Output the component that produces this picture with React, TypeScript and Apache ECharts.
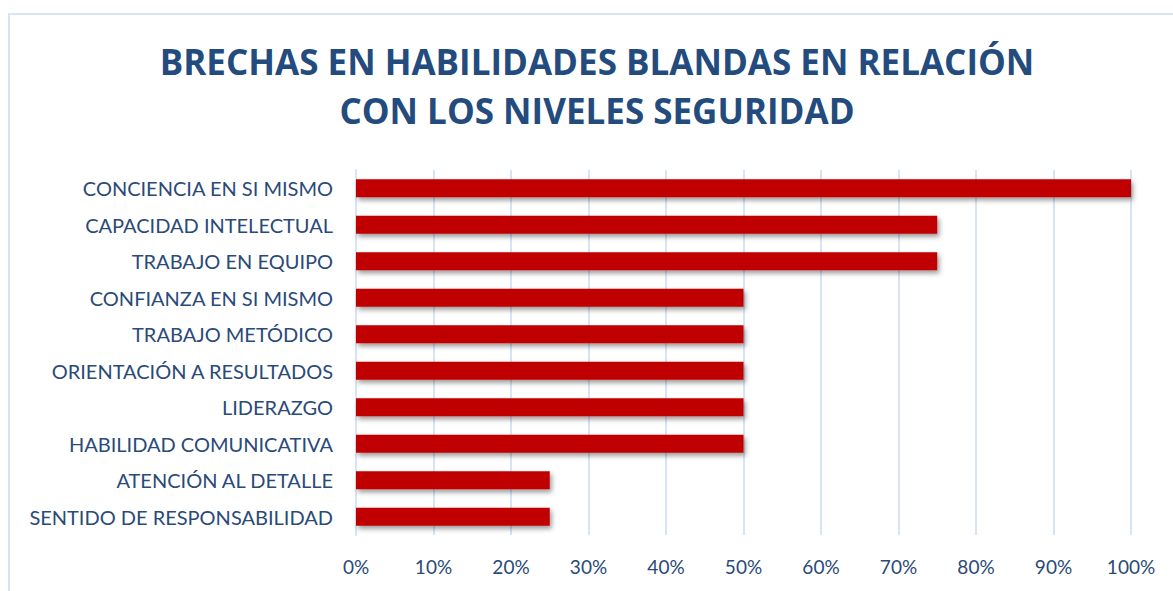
import React, { useEffect, useRef } from "react";
import * as echarts from "echarts";

const categories = [
  "CONCIENCIA EN SI MISMO",
  "CAPACIDAD INTELECTUAL",
  "TRABAJO EN EQUIPO",
  "CONFIANZA EN SI MISMO",
  "TRABAJO METÓDICO",
  "ORIENTACIÓN A RESULTADOS",
  "LIDERAZGO",
  "HABILIDAD COMUNICATIVA",
  "ATENCIÓN AL DETALLE",
  "SENTIDO DE RESPONSABILIDAD",
];
const values = [100, 75, 75, 50, 50, 50, 50, 50, 25, 25];
const titleLines = ["BRECHAS EN HABILIDADES BLANDAS EN RELACIÓN", "CON LOS NIVELES SEGURIDAD"];

export default function App() {
  const ref = useRef<HTMLDivElement>(null);
  useEffect(() => {
    if (!ref.current) return;
    const chart = echarts.init(ref.current, undefined, { renderer: "svg" });
    chart.setOption({
      animation: false,
      backgroundColor: "#ffffff",
      graphic: [
        {
          type: "rect",
          shape: { x: 9, y: 14, width: 1200, height: 600 },
          style: { fill: "none", stroke: "#D6E4F5", lineWidth: 2 },
          silent: true,
        },
        {
          type: "text",
          x: 597,
          y: 86,
          silent: true,
          style: {
            text: titleLines.join("\n"),
            align: "center",
            verticalAlign: "middle",
            fontFamily: "Open Sans",
            fontWeight: "bold",
            fontSize: 35,
            lineHeight: 49,
            fill: "#234B7D",
          },
        },
      ],
      grid: { left: 356, right: 42, top: 170, bottom: 56 },
      xAxis: {
        type: "value",
        min: 0,
        max: 100,
        interval: 10,
        axisLine: { show: false },
        axisTick: { show: false },
        axisLabel: {
          formatter: "{value}%",
          margin: 22,
          fontFamily: "Lato",
          fontSize: 19,
          color: "#2A4A78",
        },
        splitLine: { lineStyle: { color: "#D6E4F5", width: 2 } },
      },
      yAxis: {
        type: "category",
        data: categories,
        inverse: true,
        axisLine: { show: true, lineStyle: { color: "#D6E4F5", width: 2 } },
        axisTick: { show: false },
        axisLabel: {
          margin: 23,
          fontFamily: "Lato",
          fontSize: 20,
          color: "#2A4A78",
        },
      },
      series: [
        {
          type: "bar",
          data: values,
          barWidth: 18,
          itemStyle: {
            color: "#C00000",
            shadowColor: "rgba(0,0,0,0.4)",
            shadowBlur: 5,
            shadowOffsetX: 2,
            shadowOffsetY: 3,
          },
        },
      ],
    });
    return () => chart.dispose();
  }, []);
  return (
    <div
      ref={ref}
      style={{ position: "absolute", left: 0, top: 0, width: 1173, height: 591 }}
    />
  );
}
